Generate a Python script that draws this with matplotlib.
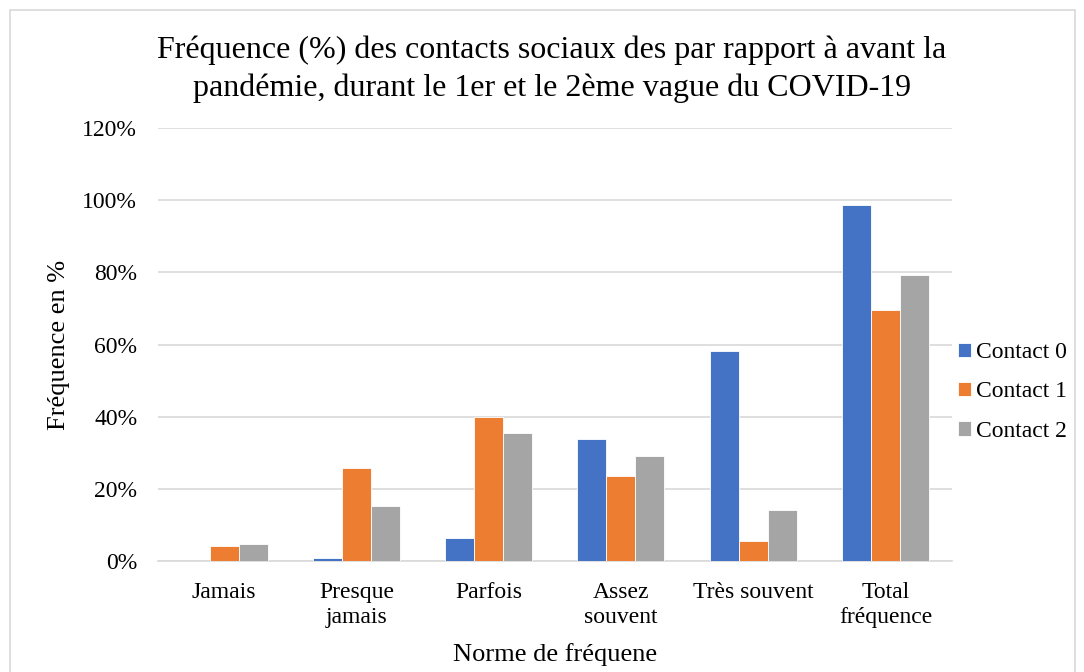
import numpy as np
import matplotlib.pyplot as plt
from matplotlib.patches import Rectangle
from matplotlib.ticker import PercentFormatter

plt.rcParams['font.family'] = ['Liberation Serif', 'DejaVu Serif']

categories = ["Jamais", "Presque\njamais", "Parfois", "Assez\nsouvent", "Très souvent", "Total\nfréquence"]
contact_0 = [0.0, 1.0, 6.5, 33.7, 58.2, 98.8]
contact_1 = [4.1, 25.7, 39.8, 23.5, 5.7, 69.7]
contact_2 = [4.8, 15.2, 35.6, 29.1, 14.3, 79.4]
series_names = ["Contact 0", "Contact 1", "Contact 2"]
colors = ["#4472C4", "#ED7D31", "#A5A5A5"]

fig = plt.figure(figsize=(10.84, 6.72), dpi=100)
ax = fig.add_axes([0.1458, 0.165, 0.732, 0.6445])

x = np.arange(len(categories))
w = 0.219
for i, (vals, name, c) in enumerate(zip([contact_0, contact_1, contact_2], series_names, colors)):
    ax.bar(x + (i - 1) * w, vals, width=w, color=c, label=name, zorder=3,
           edgecolor="white", linewidth=0.6)

ax.set_xlim(-0.5, len(categories) - 0.5)
ax.set_ylim(0, 120)
ax.set_yticks(np.arange(0, 121, 20))
ax.yaxis.set_major_formatter(PercentFormatter(decimals=0))
ax.grid(axis="y", color="#D9D9D9", linewidth=1.2, zorder=0)
for s in ["top", "right", "left"]:
    ax.spines[s].set_visible(False)
ax.spines["bottom"].set_color("#D9D9D9")
ax.spines["bottom"].set_linewidth(1.2)
ax.tick_params(axis="both", length=0, labelsize=17)
ax.tick_params(axis="x", pad=15)
ax.tick_params(axis="y", pad=15)
ax.set_xticks(x)
ax.set_xticklabels(categories, linespacing=1.25)

ax.set_xlabel("Norme de fréquene", fontsize=19)
ax.set_ylabel("Fréquence en %", fontsize=19)
ax.xaxis.set_label_coords(0.5, -0.19)
ax.yaxis.set_label_coords(-0.111, 0.5)

fig.text(0.509, 0.897, "Fréquence (%) des contacts sociaux des par rapport à avant la\npandémie, durant le 1er et le 2ème vague du COVID-19",
         ha="center", va="center", fontsize=23, linespacing=1.35)

fig.legend(loc="center left", bbox_to_anchor=(0.8838, 0.4167), frameon=False, fontsize=17,
           handlelength=0.55, handleheight=0.55, labelspacing=0.78, handletextpad=0.2,
           borderpad=0, borderaxespad=0)

fig.patches.append(Rectangle((10 / 1084, -0.01), 1065 / 1084, 1 - 10 / 672 + 0.01,
                             transform=fig.transFigure, fill=False,
                             edgecolor="#D9D9D9", linewidth=1.2))

fig.savefig("out.png", dpi=100)
